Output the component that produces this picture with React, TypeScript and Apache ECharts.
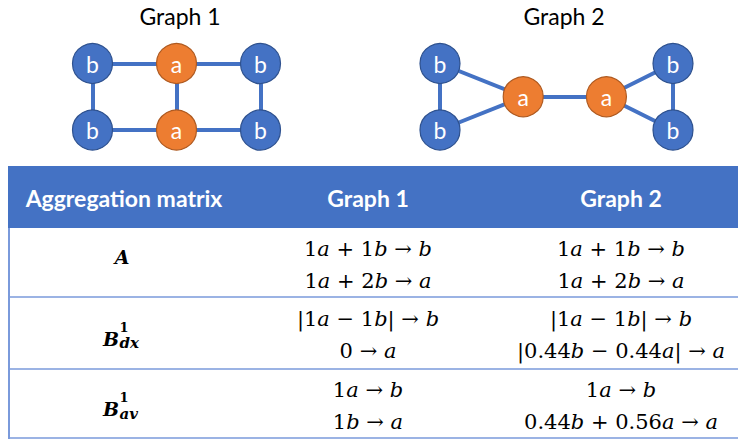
import React, { useEffect, useRef } from 'react';
import * as echarts from 'echarts';

// ---- Data ----
const graphTitles = ['Graph 1', 'Graph 2'];
const graph1Labels = ['b', 'a', 'b', 'b', 'a', 'b'];
const graph1X = [0, 1, 2, 0, 1, 2];
const graph1Y = [0, 0, 0, 1, 1, 1];
const graph1Links = [[0, 1], [1, 2], [3, 4], [4, 5], [0, 3], [1, 4], [2, 5]];
const graph2Labels = ['b', 'b', 'a', 'a', 'b', 'b'];
const graph2X = [0, 0, 1, 2, 2.8, 2.8];
const graph2Y = [0, 1, 0.5, 0.5, 0, 1];
const graph2Links = [[0, 1], [0, 2], [1, 2], [2, 3], [3, 4], [3, 5], [4, 5]];

const tableHeaders = ['Aggregation matrix', 'Graph 1', 'Graph 2'];
const matrixBase = ['A', 'B', 'B'];
const matrixSup = ['', '1', '1'];
const matrixSub = ['', 'dx', 'av'];
const graph1Rules = [
  ['1a + 1b → b', '1a + 2b → a'],
  ['|1a − 1b| → b', '0 → a'],
  ['1a → b', '1b → a'],
];
const graph2Rules = [
  ['1a + 1b → b', '1a + 2b → a'],
  ['|1a − 1b| → b', '|0.44b − 0.44a| → a'],
  ['1a → b', '0.44b + 0.56a → a'],
];

// ---- Styles ----
const BLUE = '#4472C4';
const BLUE_BORDER = '#2F528F';
const ORANGE = '#ED7D31';
const ORANGE_BORDER = '#AE5A21';
const LINE = '#7A9ADB';
const SANS = 'Lato';
const SERIF = 'DejaVu Serif';
const MATH_SIZE = 21;

const mathRich = (s: string) =>
  s
    .split(/([a-z]+)/)
    .filter((p) => p.length > 0)
    .map((p) => (/^[a-z]+$/.test(p) ? `{i|${p}}` : `{n|${p}}`))
    .join('');

const richStyles = {
  i: { fontFamily: SERIF, fontSize: MATH_SIZE, fontStyle: 'italic', fill: '#000' },
  n: { fontFamily: SERIF, fontSize: MATH_SIZE, fontStyle: 'normal', fill: '#000' },
};

function buildGraph(labels: string[], xs: number[], ys: number[], links: number[][], idx: number) {
  return {
    type: 'graph',
    coordinateSystem: 'cartesian2d',
    xAxisIndex: idx,
    yAxisIndex: idx,
    silent: true,
    symbol: 'circle',
    symbolSize: 40,
    data: labels.map((l, i) => ({
      id: `g${idx}n${i}`,
      name: l,
      value: [xs[i], ys[i]],
      itemStyle: {
        color: l === 'a' ? ORANGE : BLUE,
        borderColor: l === 'a' ? ORANGE_BORDER : BLUE_BORDER,
        borderWidth: 1.2,
      },
    })),
    links: links.map(([s, t]) => ({ source: `g${idx}n${s}`, target: `g${idx}n${t}` })),
    lineStyle: { color: BLUE, width: 4, opacity: 1, curveness: 0 },
    label: {
      show: true,
      position: 'inside',
      color: '#fff',
      fontFamily: SANS,
      fontSize: 23,
      formatter: (p: any) => labels[p.dataIndex],
    },
    emphasis: { disabled: true },
  };
}

export default function App() {
  const ref = useRef<HTMLDivElement>(null);
  useEffect(() => {
    if (!ref.current) return;
    const chart = echarts.init(ref.current, undefined, { renderer: 'svg' });

    const colCenters = [124, 368, 621];
    const rowTops = [228, 297, 369];
    const rowBottoms = [297, 369, 438];
    const titleX = [180, 564];

    const elements: any[] = [];
    graphTitles.forEach((t, i) => {
      elements.push({
        type: 'text',
        x: titleX[i],
        y: 16,
        style: { text: t, font: `23px ${SANS}`, fill: '#000', textAlign: 'center', textVerticalAlign: 'middle' },
      });
    });
    elements.push({ type: 'rect', shape: { x: 8, y: 166, width: 730, height: 62 }, style: { fill: BLUE } });
    tableHeaders.forEach((h, i) => {
      elements.push({
        type: 'text',
        x: colCenters[i],
        y: 198,
        style: { text: h, font: `bold 23px ${SANS}`, fill: '#fff', textAlign: 'center', textVerticalAlign: 'middle' },
      });
    });
    rowBottoms.forEach((yb) => {
      elements.push({ type: 'line', shape: { x1: 8, y1: yb, x2: 738, y2: yb }, style: { stroke: LINE, lineWidth: 1.5 } });
    });
    elements.push({ type: 'line', shape: { x1: 9, y1: 228, x2: 9, y2: 439 }, style: { stroke: LINE, lineWidth: 2 } });

    rowTops.forEach((top, r) => {
      const c = (top + rowBottoms[r]) / 2;
      if (matrixSup[r] === '') {
        elements.push({
          type: 'text',
          x: 122,
          y: c - 5.5,
          style: { text: matrixBase[r], font: `italic bold 19px ${SERIF}`, fill: '#000', textAlign: 'center', textVerticalAlign: 'middle' },
        });
      } else {
        elements.push({
          type: 'text',
          x: 119,
          y: c + 5.5,
          style: { text: matrixBase[r], font: `italic bold 19px ${SERIF}`, fill: '#000', textAlign: 'right', textVerticalAlign: 'middle' },
        });
        elements.push({
          type: 'text',
          x: 119.5,
          y: c - 6,
          style: { text: matrixSup[r], font: `bold 13px ${SERIF}`, fill: '#000', textAlign: 'left', textVerticalAlign: 'middle' },
        });
        elements.push({
          type: 'text',
          x: 119.5,
          y: c + 10,
          style: { text: matrixSub[r], font: `italic bold 15px ${SERIF}`, fill: '#000', textAlign: 'left', textVerticalAlign: 'middle' },
        });
      }
      [graph1Rules, graph2Rules].forEach((rules, k) => {
        rules[r].forEach((line, li) => {
          elements.push({
            type: 'text',
            x: colCenters[k + 1],
            y: c + (li === 0 ? -14 : 18),
            style: {
              text: mathRich(line),
              rich: richStyles,
              fontFamily: SERIF,
              fontSize: MATH_SIZE,
              fill: '#000',
              textAlign: 'center',
              textVerticalAlign: 'middle',
            },
          });
        });
      });
    });

    chart.setOption({
      animation: false,
      backgroundColor: '#fff',
      grid: [
        { left: 92.5, top: 63.5, width: 168, height: 66.5 },
        { left: 440, top: 63.5, width: 233, height: 66.5 },
      ],
      xAxis: [
        { type: 'value', gridIndex: 0, min: 0, max: 2, show: false },
        { type: 'value', gridIndex: 1, min: 0, max: 2.8, show: false },
      ],
      yAxis: [
        { type: 'value', gridIndex: 0, min: 0, max: 1, inverse: true, show: false },
        { type: 'value', gridIndex: 1, min: 0, max: 1, inverse: true, show: false },
      ],
      series: [
        buildGraph(graph1Labels, graph1X, graph1Y, graph1Links, 0),
        buildGraph(graph2Labels, graph2X, graph2Y, graph2Links, 1),
      ],
      graphic: { elements },
    });
    return () => chart.dispose();
  }, []);
  return <div ref={ref} style={{ position: 'fixed', left: 0, top: 0, width: 738, height: 440 }} />;
}
